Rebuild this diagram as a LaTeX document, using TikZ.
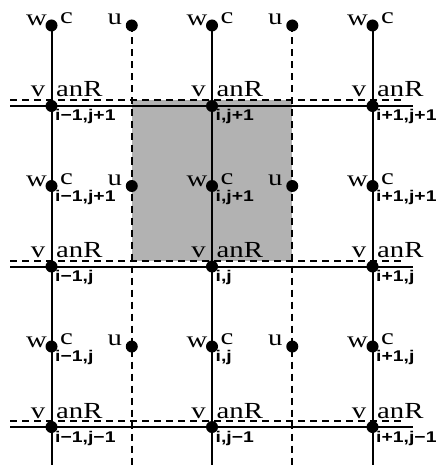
\documentclass[tikz,border=0pt]{standalone}
\usepackage{fontspec}
\usepackage{graphicx}
\usetikzlibrary{backgrounds}
\newfontfamily\serl{Liberation Serif}
\newfontfamily\sanl[UprightFont={* Bold}]{Liberation Sans}
\newcommand\wide[1]{\scalebox{1.25}[1]{#1}}
\begin{document}
\begin{tikzpicture}[x=1pt,y=-1pt,
  sol/.style={line width=2pt},
  dsh/.style={line width=2pt, dash pattern=on 7pt off 5pt},
  dotn/.style={circle, fill=black, inner sep=0pt, minimum size=12pt},
  lab/.style={inner sep=0pt, font=\serl\fontsize{23}{23}\selectfont},
  sublab/.style={inner sep=0pt, font=\sanl\fontsize{15.5}{15.5}\selectfont}]
\useasboundingbox (0,0) rectangle (442,465);
% dots and labels
\foreach \k/\X/\il in {0/51.5/i−1,1/212/i,2/372.5/i+1}{
  \foreach \r/\V/\jl in {0/106/j+1,1/266.5/j,2/427/j−1}{
    \node[dotn] (v\k\r) at (\X,\V) {};
    \node[lab, anchor=base east] (vl\k\r) at (\X-6,\V-9) {\wide{v}};
    \node[lab, anchor=base west] (al\k\r) at (\X+4.5,\V-9) {\wide{anR}};
    \node[sublab, anchor=base west] (vs\k\r) at (\X+3.5,\V+15) {\wide{\il,\jl}};
    \node[dotn] (w\k\r) at (\X,\V-80.5) {};
    \node[lab, anchor=base east] (wl\k\r) at (\X-4.5,\V-80) {\wide{w}};
    \node[lab, anchor=base west] (cl\k\r) at (\X+8.5,\V-82.5) {\wide{c}};
  }
  \foreach \r/\W/\jl in {1/186/j+1,2/346.5/j}{
    \node[sublab, anchor=base west] (ws\k\r) at (\X+3.5,\W+15) {\wide{\il,\jl}};
  }
}
\foreach \k/\D in {0/131.75,1/292.25}{
  \foreach \r/\W in {0/25.5,1/186,2/346.5}{
    \node[dotn] (u\k\r) at (\D,\W) {};
    \node[lab, anchor=base east] (ul\k\r) at (\D-9.5,\W-1) {\wide{u}};
  }
  \coordinate (ubot\k) at (\D,466);
}
\foreach \k/\X in {0/51.5,1/212,2/372.5}{
  \coordinate (bot\k) at (\X,466);
}
\foreach \r/\V in {0/106,1/266.5,2/427}{
  \coordinate (hl\r) at (10,\V);
  \coordinate (hr\r) at (413,\V);
  \coordinate (dl\r) at (10,\V-6);
  \coordinate (dr\r) at (405,\V-6);
}
\begin{pgfonlayer}{background}
  \fill[black!30] (131.75,100) rectangle (292.25,260.5);
  \foreach \k in {0,1,2}{\draw[sol] (w\k0.center) -- (bot\k);}
  \foreach \k in {0,1}{\draw[dsh] (u\k0.center) -- (ubot\k);}
  \foreach \r in {0,1,2}{
    \draw[sol] (hl\r) -- (hr\r);
    \draw[dsh] (dl\r) -- (dr\r);
  }
\end{pgfonlayer}
\end{tikzpicture}
\end{document}
